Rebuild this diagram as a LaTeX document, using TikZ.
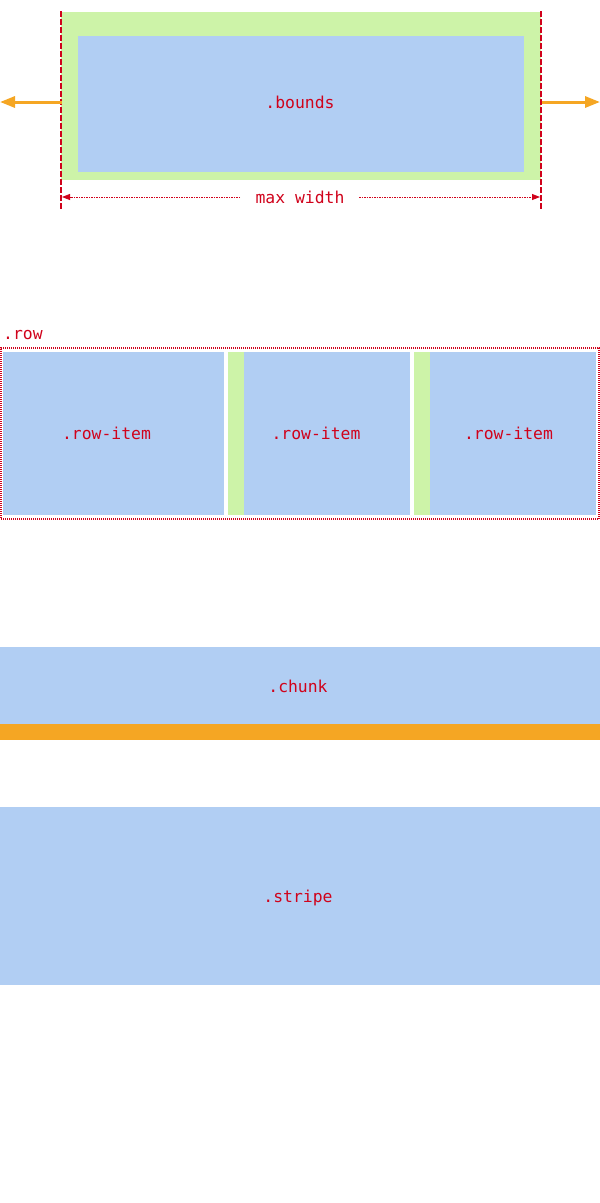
\documentclass[tikz,border=0pt]{standalone}
\usepackage{fontspec}
\setmonofont{DejaVu Sans Mono}
\usetikzlibrary{arrows.meta}
\definecolor{cblue}{HTML}{B1CEF3}
\definecolor{cgreen}{HTML}{CDF3A8}
\definecolor{corange}{HTML}{F5A623}
\definecolor{cred}{HTML}{D0021B}
\begin{document}
\begin{tikzpicture}[x=1pt,y=-1pt,
  box/.style={inner sep=0pt,outer sep=0pt,anchor=north west},
  bluebox/.style={box,fill=cblue},
  greenbox/.style={box,fill=cgreen},
  lbl/.style={inner sep=0pt,anchor=base,text=cred,font=\fontsize{16.4}{18}\selectfont\ttfamily},
  edgeline/.style={cred,line width=2.2pt,dash pattern=on 6pt off 2pt},
  growarrow/.style={corange,line width=3pt,-{Triangle[length=15pt,width=11pt]}},
  dimline/.style={cred,line width=0.9pt,dash pattern=on 1.5pt off 1pt,-{Triangle[length=8pt,width=6pt]}},
  rowborder/.style={draw=cred,line width=1.2pt,dash pattern=on 1pt off 1pt}
]
\useasboundingbox (0,0) rectangle (600,1203);
% ---- bounds ----
\node[greenbox,minimum width=480pt,minimum height=168pt] (outer) at (61,12) {};
\node[bluebox,minimum width=446pt,minimum height=136pt] (bounds) at (78,36) {};
\node[lbl] (boundslbl) at (300,108) {.bounds};
\coordinate (lt) at (61,11);
\coordinate (lb) at (61,209);
\coordinate (rt) at (541,11);
\coordinate (rb) at (541,209);
\draw[edgeline] (lt) -- (lb);
\draw[edgeline] (rt) -- (rb);
\coordinate (la) at (62,102);
\coordinate (lend) at (0,102);
\coordinate (ra) at (542,102);
\coordinate (rend) at (600,102);
\draw[growarrow] (la) -- (lend);
\draw[growarrow] (ra) -- (rend);
\node[lbl] (maxw) at (300,203) {max width};
\coordinate (dl) at (62,197);
\coordinate (dr) at (540,197);
\coordinate (dlm) at (240,197);
\coordinate (drm) at (359,197);
\draw[dimline] (dlm) -- (dl);
\draw[dimline] (drm) -- (dr);
% ---- row ----
\node[lbl,anchor=base west] (rowlbl) at (3,339) {.row};
\node[box,rowborder,minimum width=598pt,minimum height=171pt] (row) at (1,348) {};
\node[bluebox,minimum width=221pt,minimum height=163pt] (item1) at (3,352) {};
\node[greenbox,minimum width=16pt,minimum height=163pt] (pad2) at (228,352) {};
\node[bluebox,minimum width=166pt,minimum height=163pt] (item2) at (244,352) {};
\node[greenbox,minimum width=16pt,minimum height=163pt] (pad3) at (414,352) {};
\node[bluebox,minimum width=166pt,minimum height=163pt] (item3) at (430,352) {};
\node[lbl] (l1) at (106.5,439) {.row-item};
\node[lbl] (l2) at (316,439) {.row-item};
\node[lbl] (l3) at (508.5,439) {.row-item};
% ---- chunk ----
\node[bluebox,minimum width=600pt,minimum height=77pt] (chunk) at (0,647) {};
\node[box,fill=corange,minimum width=600pt,minimum height=16pt] (chunkbar) at (0,724) {};
\node[lbl] (chunklbl) at (298,692) {.chunk};
% ---- stripe ----
\node[bluebox,minimum width=600pt,minimum height=178pt] (stripe) at (0,807) {};
\node[lbl] (stripelbl) at (298,902) {.stripe};
\end{tikzpicture}
\end{document}
